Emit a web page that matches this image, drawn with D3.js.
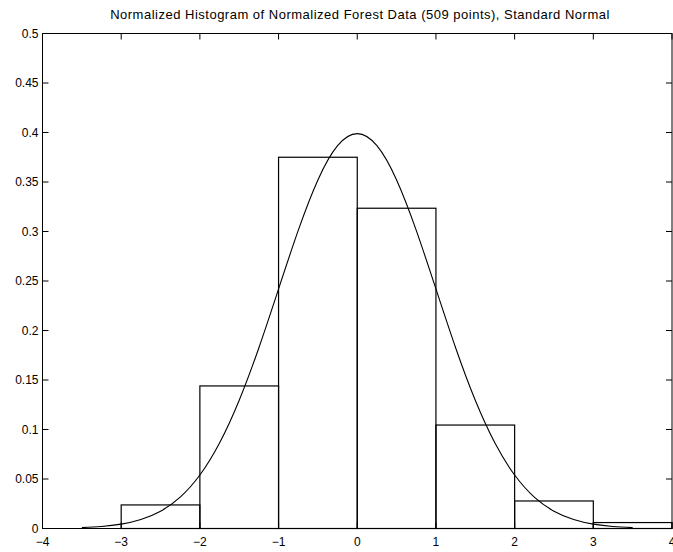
<!DOCTYPE html>
<html>
<head>
<meta charset="utf-8">
<script src="https://cdn.jsdelivr.net/npm/d3@7"></script>
<style>
  body { margin: 0; background: white; }
  svg { display: block; }
  text { font-family: "Liberation Sans", Arial, sans-serif; }
</style>
</head>
<body>
<svg width="673" height="552"></svg>
<script>
var WIDTH = 673,
    HEIGHT = 552,
    MARGIN = {top: 33, left: 42, bottom: 24, right: 1},
    LINE_COLOR = "black",
    TICK_LEN = 6;

var TITLE = "Normalized Histogram of Normalized Forest Data (509 points), Standard Normal";

// histogram bins (left edges, width 1) and normalized heights
var binStarts = [-4, -3, -2, -1, 0, 1, 2, 3];
var binHeights = [0, 0.0238, 0.1440, 0.3750, 0.3235, 0.1045, 0.0278, 0.0060];

// standard normal curve, sampled every 0.25
var curveX = [-3.5, -3.25, -3, -2.75, -2.5, -2.25, -2, -1.75, -1.5, -1.25, -1, -0.75, -0.5, -0.25, 0,
              0.25, 0.5, 0.75, 1, 1.25, 1.5, 1.75, 2, 2.25, 2.5, 2.75, 3, 3.25, 3.5];
var curveY = [0.0009, 0.0020, 0.0044, 0.0091, 0.0175, 0.0317, 0.0540, 0.0863, 0.1295, 0.1826, 0.2420, 0.3011, 0.3521, 0.3867, 0.3989,
              0.3867, 0.3521, 0.3011, 0.2420, 0.1826, 0.1295, 0.0863, 0.0540, 0.0317, 0.0175, 0.0091, 0.0044, 0.0020, 0.0009];

var xTicks = [-4, -3, -2, -1, 0, 1, 2, 3, 4];
var yTicks = [0, 0.05, 0.1, 0.15, 0.2, 0.25, 0.3, 0.35, 0.4, 0.45, 0.5];

var PLOT_W = WIDTH - MARGIN.left - MARGIN.right,
    PLOT_H = HEIGHT - MARGIN.top - MARGIN.bottom;

var x = d3.scaleLinear().domain([-4, 4]).range([0, PLOT_W - 0.5]);
var y = d3.scaleLinear().domain([0, 0.5]).range([PLOT_H, 0]);

var svg = d3.select("svg");

svg.append("text")
    .attr("x", 360)
    .attr("y", 19)
    .style("font-size", "13px")
    .style("letter-spacing", "0.5px")
    .style("text-anchor", "middle")
    .text(TITLE);

var g = svg.append("g")
    .attr("transform", "translate(" + (MARGIN.left + 0.5) + "," + (MARGIN.top + 0.5) + ")");

// bars
g.selectAll(".bar")
    .data(binStarts)
  .enter().append("rect")
    .attr("class", "bar")
    .attr("x", function(d) { return x(d); })
    .attr("width", function(d) { return x(d + 1) - x(d); })
    .attr("y", function(d, i) { return y(binHeights[i]); })
    .attr("height", function(d, i) { return y(0) - y(binHeights[i]); })
    .style("fill", "none")
    .style("stroke", LINE_COLOR)
    .style("stroke-width", 1.2);

// normal curve
var line = d3.line()
    .x(function(d, i) { return x(curveX[i]); })
    .y(function(d) { return y(d); })
    .curve(d3.curveNatural);

g.append("path")
    .datum(curveY)
    .attr("d", line)
    .style("fill", "none")
    .style("stroke", LINE_COLOR)
    .style("stroke-width", 1.1);

// frame
g.append("rect")
    .attr("width", x(4))
    .attr("height", PLOT_H)
    .style("fill", "none")
    .style("stroke", LINE_COLOR)
    .style("stroke-width", 1);

// bottom ticks + labels
xTicks.forEach(function(t) {
    g.append("line")
        .attr("x1", x(t)).attr("x2", x(t))
        .attr("y1", PLOT_H).attr("y2", PLOT_H - TICK_LEN)
        .style("stroke", LINE_COLOR);
    g.append("line")
        .attr("x1", x(t)).attr("x2", x(t))
        .attr("y1", 0).attr("y2", TICK_LEN)
        .style("stroke", LINE_COLOR);
    g.append("text")
        .attr("x", x(t))
        .attr("y", PLOT_H + 17)
        .style("font-size", "12px")
        .style("text-anchor", "middle")
        .text(t < 0 ? "\u2212" + Math.abs(t) : String(t));
});

// left ticks + labels
yTicks.forEach(function(t) {
    g.append("line")
        .attr("x1", 0).attr("x2", TICK_LEN)
        .attr("y1", y(t)).attr("y2", y(t))
        .style("stroke", LINE_COLOR);
    g.append("line")
        .attr("x1", x(4)).attr("x2", x(4) - TICK_LEN)
        .attr("y1", y(t)).attr("y2", y(t))
        .style("stroke", LINE_COLOR);
    g.append("text")
        .attr("x", -4)
        .attr("y", y(t))
        .attr("dy", "0.35em")
        .style("font-size", "12px")
        .style("text-anchor", "end")
        .text(String(t));
});
</script>
</body>
</html>
